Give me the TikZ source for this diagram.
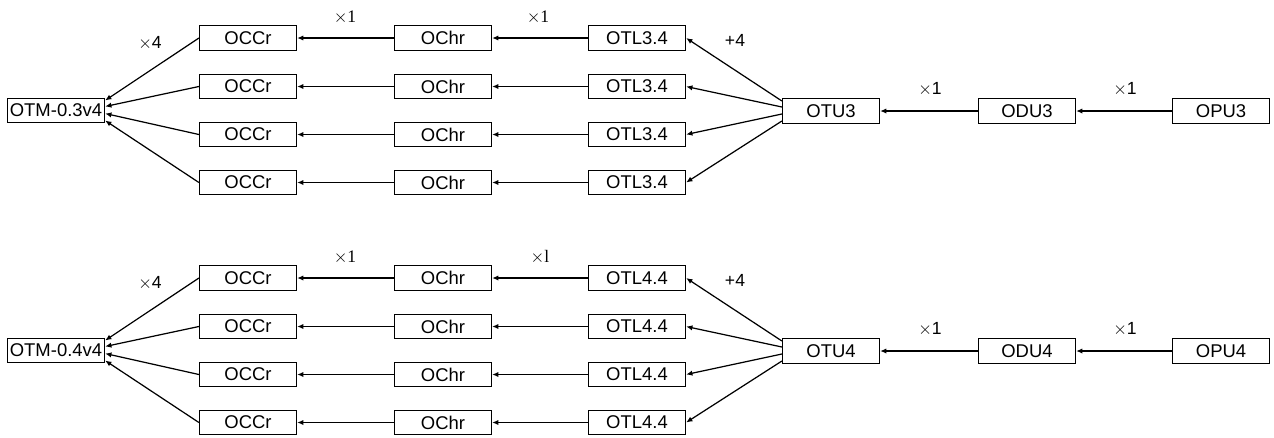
\documentclass[tikz,border=0pt]{standalone}
\usepackage{fontspec}
\setmainfont{Liberation Sans}
\newfontfamily\labelserif{Liberation Serif}
\usetikzlibrary{arrows.meta,calc}

\tikzset{
  unit/.style={draw, line width=0.7pt, minimum width=1.94cm, minimum height=0.49cm,
    inner sep=0pt, font=\fontsize{10.5}{12}\selectfont},
  feed/.style={line width=0.7pt, -{Latex[length=3.6pt,width=3pt]}},
  mult/.style={font=\fontsize{10}{12}\selectfont}
}

\begin{document}
\begin{tikzpicture}[x=0.02cm,y=-0.02cm]
\useasboundingbox (0,0) rectangle (1274,437);

% upper chain: OTU3
\node[unit] (otm3) at (56,110.5) {OTM-0.3v4};
\node[unit] (otu3) at (831,111) {OTU3};
\node[unit] (odu3) at (1027,111) {ODU3};
\node[unit] (opu3) at (1221,111) {OPU3};

\foreach \i/\y/\dy in {1/38/-10,2/86.5/-4,3/134.5/3,4/182.5/10}{
  \node[unit] (occ3\i) at (248,\y) {OCCr};
  \node[unit] (och3\i) at (443,\y) {OChr};
  \node[unit] (otl3\i) at (637,\y) {OTL3.4};
  \draw[feed] (och3\i) -- (occ3\i);
  \draw[feed] (otl3\i) -- (och3\i);
  \draw[feed] (occ3\i.west) -- ($(otm3.east)+(0,\dy)$);
  \draw[feed] ($(otu3.west)+(0,\dy)$) -- (otl3\i.east);
}
\draw[feed] (odu3) -- (otu3);
\draw[feed] (opu3) -- (odu3);

\node[mult] (x43) at (150,43) {$\times$4};
\node[mult] (x13a) at (345,17) {$\times${\labelserif 1}};
\node[mult] (x13b) at (538,17) {$\times${\labelserif 1}};
\node[mult] (p43) at (735,40) {+4};
\node[mult] (x13c) at (930,89) {$\times$1};
\node[mult] (x13d) at (1125,89) {$\times$1};

% lower chain: OTU4
\node[unit] (otm4) at (56,350.5) {OTM-0.4v4};
\node[unit] (otu4) at (831,351) {OTU4};
\node[unit] (odu4) at (1027,351) {ODU4};
\node[unit] (opu4) at (1221,351) {OPU4};

\foreach \i/\y/\dy in {1/278/-10,2/326.5/-4,3/374.5/3,4/422.5/10}{
  \node[unit] (occ4\i) at (248,\y) {OCCr};
  \node[unit] (och4\i) at (443,\y) {OChr};
  \node[unit] (otl4\i) at (637,\y) {OTL4.4};
  \draw[feed] (och4\i) -- (occ4\i);
  \draw[feed] (otl4\i) -- (och4\i);
  \draw[feed] (occ4\i.west) -- ($(otm4.east)+(0,\dy)$);
  \draw[feed] ($(otu4.west)+(0,\dy)$) -- (otl4\i.east);
}
\draw[feed] (odu4) -- (otu4);
\draw[feed] (opu4) -- (odu4);

\node[mult] (x44) at (150,283) {$\times$4};
\node[mult] (x14a) at (345,257) {$\times${\labelserif 1}};
\node[mult] (x14b) at (540,257) {$\times${\labelserif l}};
\node[mult] (p44) at (735,280) {+4};
\node[mult] (x14c) at (930,329) {$\times$1};
\node[mult] (x14d) at (1125,329) {$\times$1};

\end{tikzpicture}
\end{document}
